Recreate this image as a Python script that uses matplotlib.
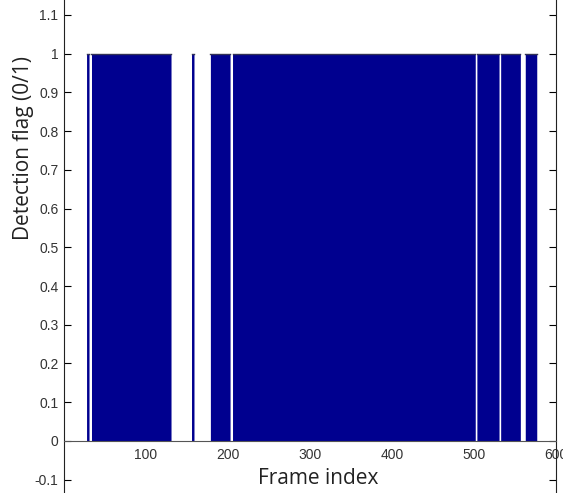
import numpy as np
import matplotlib
matplotlib.use("Agg")
import matplotlib.pyplot as plt

# runs of frames where the detection flag is 1 (start, end inclusive)
run_starts = [28, 34, 156, 179, 206, 504, 533, 563]
run_ends = [30, 130, 158, 202, 501, 530, 556, 576]
n_frames = 600

xtick_vals = [100, 200, 300, 400, 500, 600]
ytick_vals = [-0.1, 0, 0.1, 0.2, 0.3, 0.4, 0.5, 0.6, 0.7, 0.8, 0.9, 1, 1.1]
ytick_labels = ['-0.1', '0', '0.1', '0.2', '0.3', '0.4', '0.5', '0.6',
                '0.7', '0.8', '0.9', '1', '1.1']

frames = np.arange(1, n_frames + 1)
flag = np.zeros(n_frames)
for s, e in zip(run_starts, run_ends):
    flag[(frames >= s) & (frames <= e)] = 1

fig = plt.figure(figsize=(5.63, 4.93), dpi=100)
ax = fig.add_axes([0.1137, -0.0122, 0.8739, 1.0211])

ax.fill_between(frames, flag, step='mid', color='#00008F', linewidth=0)
# dark edge along the tops of the bars
for s, e in zip(run_starts, run_ends):
    ax.plot([s - 0.5, e + 0.5], [1, 1], color='#333355', linewidth=1)

ax.set_xlim(0, 600)
ax.set_ylim(-0.15, 1.15)

ax.spines['bottom'].set_position(('data', 0))
ax.spines['bottom'].set_color('#555555')
ax.spines['top'].set_visible(False)
for side in ['left', 'right']:
    ax.spines[side].set_color('#222222')

ax.set_xticks(xtick_vals)
ax.set_xticklabels([str(v) for v in xtick_vals])
ax.tick_params(axis='x', length=0, pad=5, labelsize=10, labelcolor='#333333')
ax.set_yticks(ytick_vals)
ax.set_yticklabels(ytick_labels)
ax.tick_params(axis='y', direction='in', length=5, labelsize=10,
               labelcolor='#333333', left=True, right=True, pad=4)
for lbl in ax.get_xticklabels() + ax.get_yticklabels():
    lbl.set_family('Liberation Sans')

ax.set_xlabel('Frame index', fontsize=15, family='Open Sans', color='#222222')
ax.xaxis.set_label_coords(0.516, 0.062)
ax.set_ylabel('Detection flag (0/1)', fontsize=15, family='Open Sans', color='#222222')
ax.yaxis.set_label_coords(-0.062, 0.697)

fig.savefig('out.png', dpi=100)
